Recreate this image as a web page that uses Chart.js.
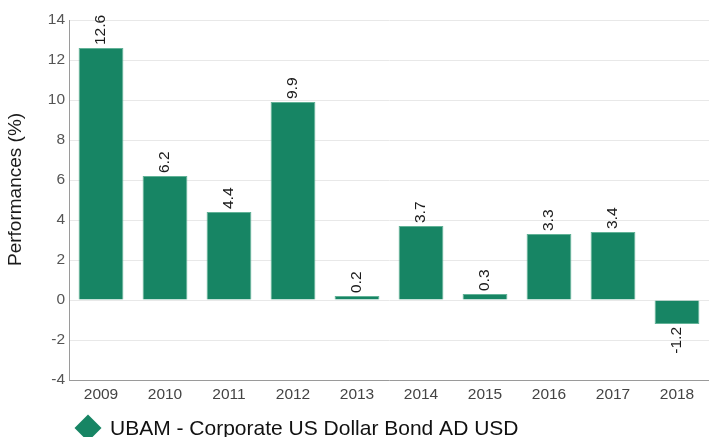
<!DOCTYPE html>
<html>
<head>
<meta charset="utf-8">
<script src="https://cdn.jsdelivr.net/npm/chart.js@4/dist/chart.umd.min.js"></script>
<style>
html,body{margin:0;padding:0;background:#fff;overflow:hidden;}
#wrap{position:relative;width:709px;height:437px;}
</style>
</head>
<body>
<div id="wrap"><canvas id="c"></canvas></div>
<script>
const years = ['2009','2010','2011','2012','2013','2014','2015','2016','2017','2018'];
const performances = [12.6, 6.2, 4.4, 9.9, 0.2, 3.7, 0.3, 3.3, 3.4, -1.2];
const seriesName = 'UBAM - Corporate US Dollar Bond AD USD';
const yTitle = 'Performances (%)';

const FONT = "'Liberation Sans', Arial, Helvetica, sans-serif";
Chart.defaults.font.family = FONT;
const GREEN = '#178564';

const valueLabels = {
  id: 'valueLabels',
  afterDatasetsDraw(chart) {
    const ctx = chart.ctx;
    const meta = chart.getDatasetMeta(0);
    const data = chart.data.datasets[0].data;
    ctx.save();
    ctx.font = '15.5px ' + FONT;
    ctx.fillStyle = '#1a1a1a';
    ctx.textBaseline = 'middle';
    meta.data.forEach((bar, i) => {
      const v = data[i];
      ctx.save();
      if (v >= 0) {
        ctx.translate(bar.x, bar.y - 3);
        ctx.rotate(-Math.PI / 2);
        ctx.textAlign = 'left';
      } else {
        ctx.translate(bar.x, bar.y + 3);
        ctx.rotate(-Math.PI / 2);
        ctx.textAlign = 'right';
      }
      ctx.fillText(v.toFixed(1), 0, 0);
      ctx.restore();
    });
    ctx.restore();
  }
};

const customLegend = {
  id: 'customLegend',
  afterDraw(chart) {
    const ctx = chart.ctx;
    const ds = chart.data.datasets[0];
    const cx = chart.chartArea.left + 19;
    const cy = 428;
    const r = 13.5;
    ctx.save();
    ctx.fillStyle = ds.backgroundColor;
    ctx.beginPath();
    ctx.moveTo(cx, cy - r);
    ctx.lineTo(cx + r, cy);
    ctx.lineTo(cx, cy + r);
    ctx.lineTo(cx - r, cy);
    ctx.closePath();
    ctx.fill();
    ctx.font = '21px ' + FONT;
    ctx.fillStyle = '#111';
    ctx.textAlign = 'left';
    ctx.textBaseline = 'alphabetic';
    ctx.fillText(ds.label, cx + 22, 435);
    ctx.restore();
  }
};

new Chart(document.getElementById('c'), {
  type: 'bar',
  data: {
    labels: years,
    datasets: [{
      label: seriesName,
      data: performances,
      backgroundColor: GREEN,
      borderColor: '#62b297',
      borderWidth: 1,
      categoryPercentage: 1.0,
      barPercentage: 0.70
    }]
  },
  options: {
    responsive: true,
    maintainAspectRatio: false,
    animation: false,
    layout: { padding: { top: 20, right: 0, bottom: 27, left: 0 } },
    plugins: {
      legend: { display: false },
      tooltip: { enabled: false }
    },
    scales: {
      x: {
        grid: { display: false, drawTicks: false },
        border: { display: true, color: '#9a9a9a', width: 1 },
        ticks: { color: '#444', font: { size: 15.5 }, padding: 5, maxRotation: 0 },
        afterFit(s) { s.height = 30; }
      },
      y: {
        min: -4,
        max: 14,
        ticks: { stepSize: 2, color: '#555', font: { size: 15.5 }, padding: 4 },
        grid: { color: '#e8e8e8', drawTicks: false },
        border: { display: true, color: '#9a9a9a', width: 1 },
        title: {
          display: true,
          text: '    ' + yTitle,
          color: '#1a1a1a',
          font: { size: 19 },
          padding: { top: 4, bottom: 0 }
        },
        afterFit(s) { s.width = 69; }
      }
    }
  },
  plugins: [valueLabels, customLegend]
});
</script>
</body>
</html>
